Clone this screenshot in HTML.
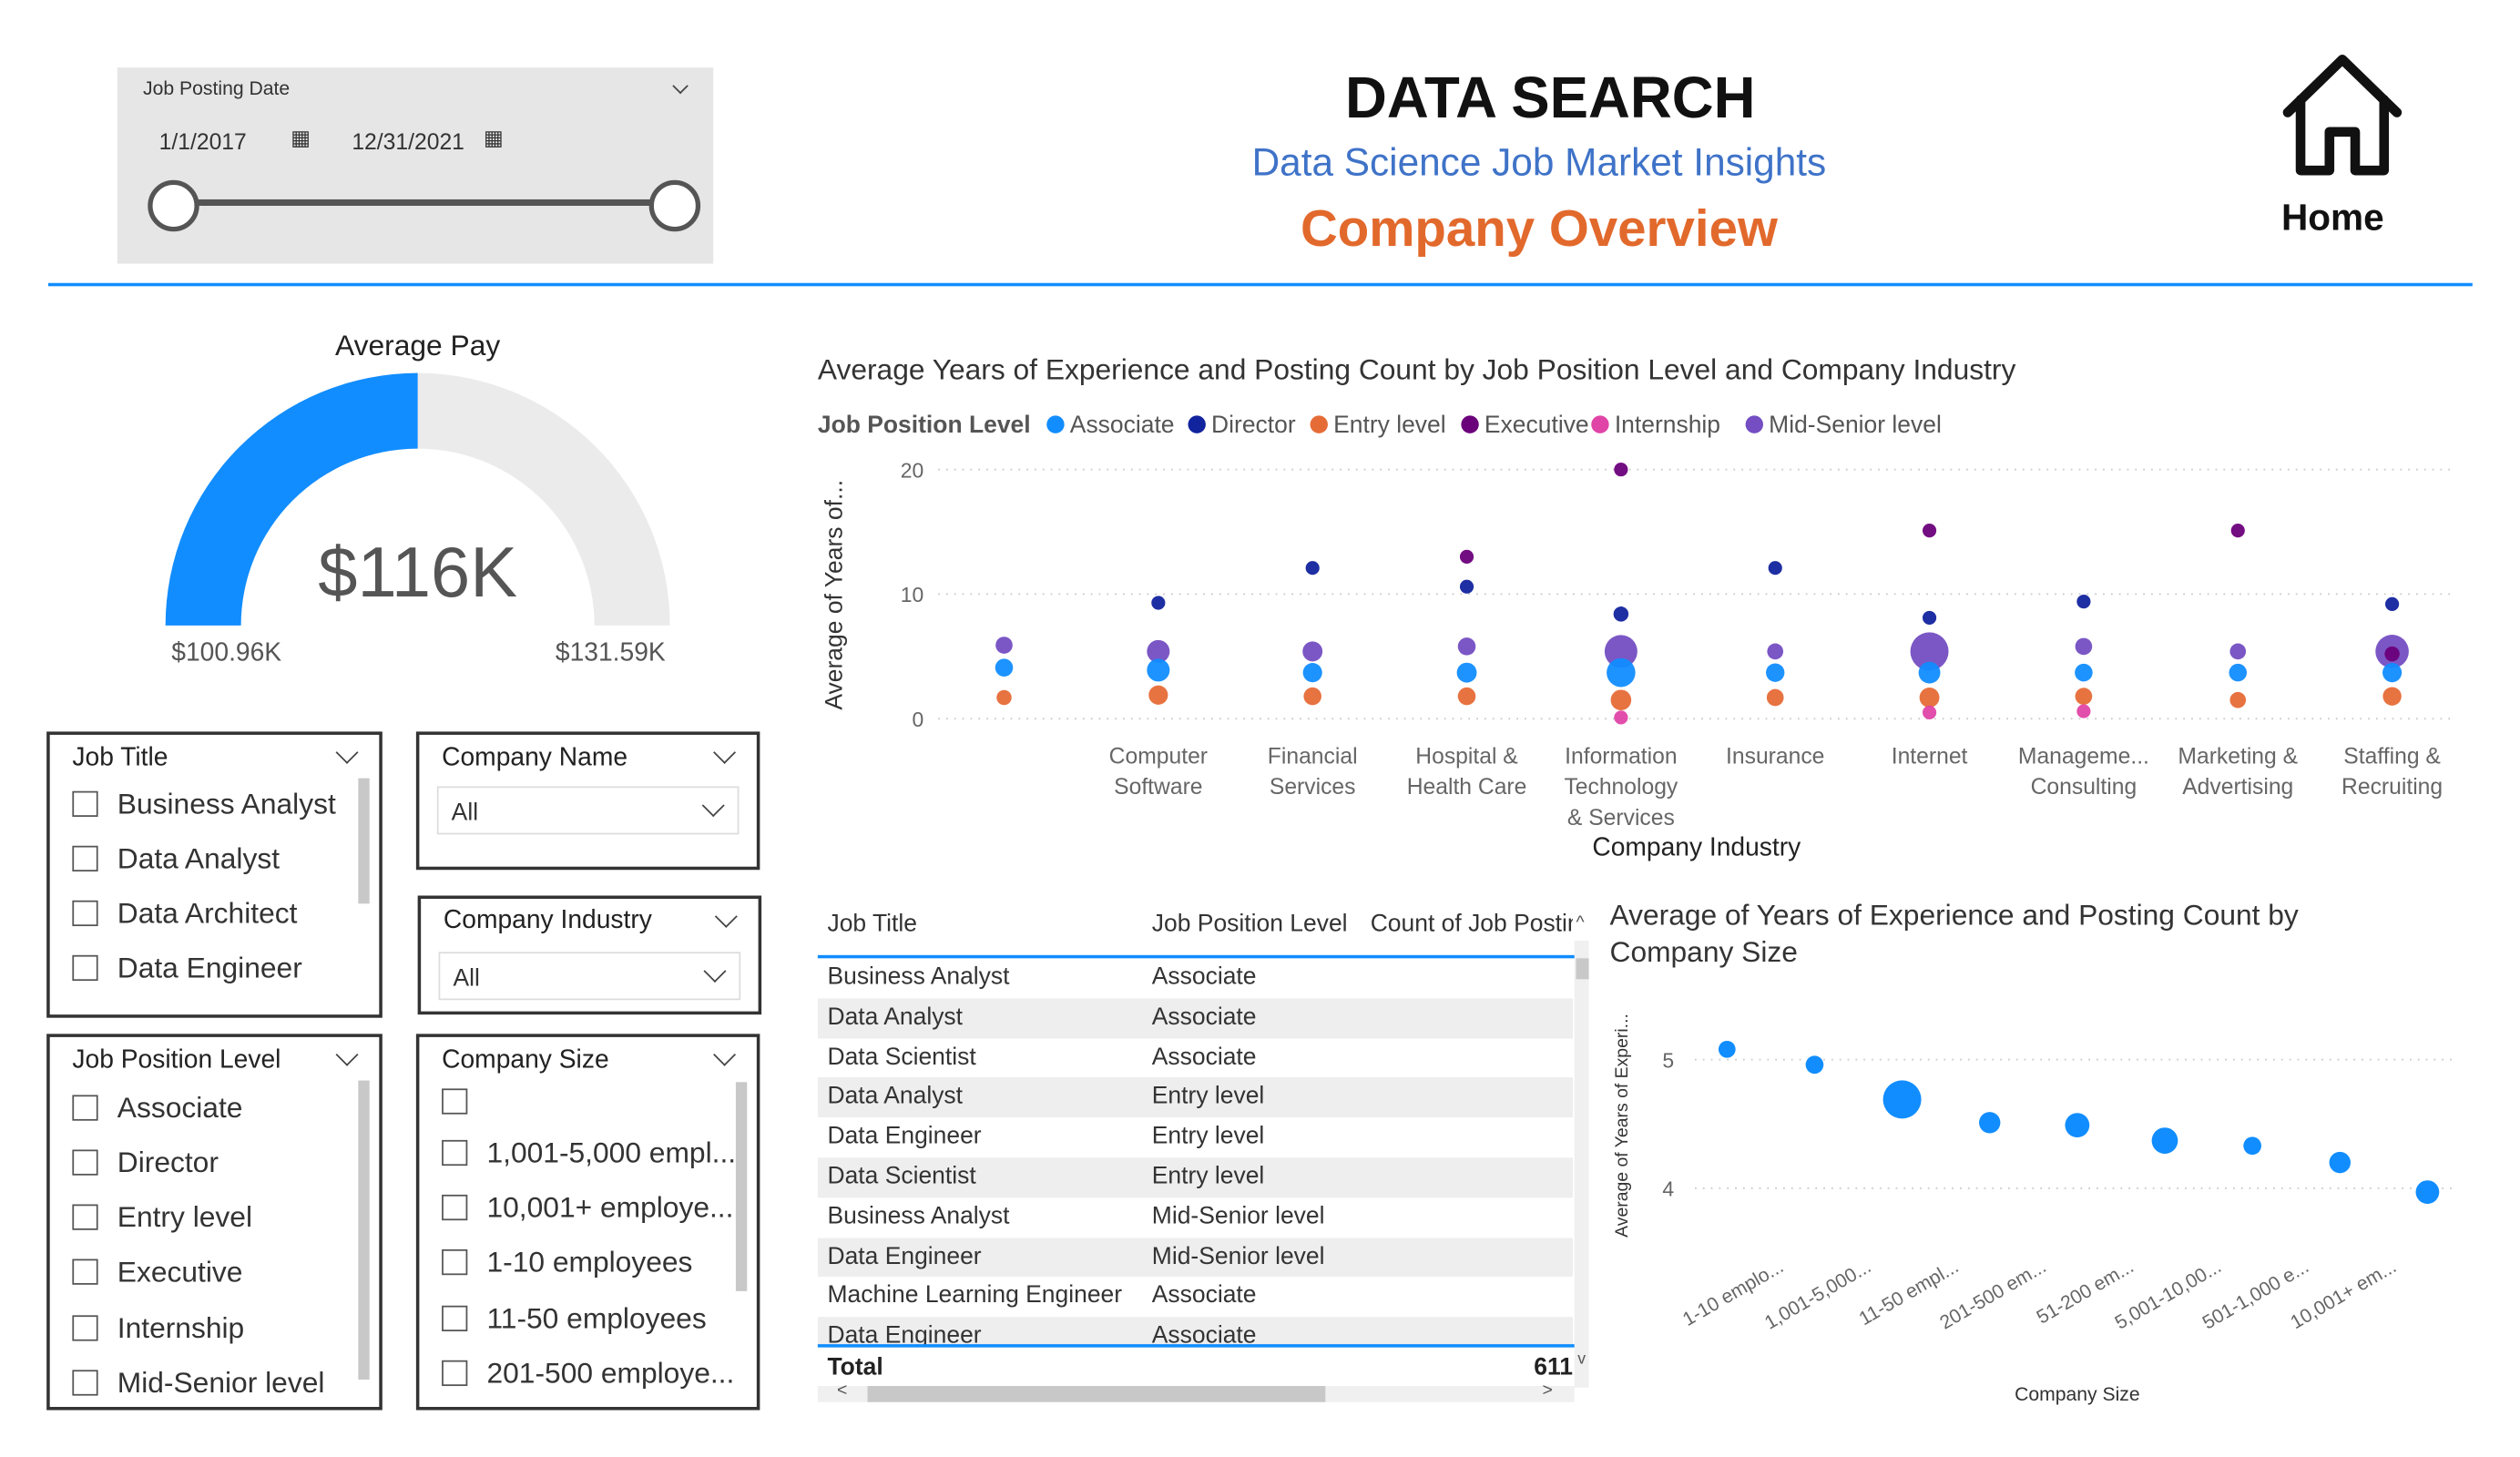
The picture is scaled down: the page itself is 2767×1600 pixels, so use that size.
<!DOCTYPE html>
<html><head><meta charset="utf-8">
<style>
html,body{margin:0;padding:0;background:#fff;}
body{width:2767px;height:1600px;overflow:hidden;font-family:"Liberation Sans",sans-serif;}
#wrap{position:absolute;left:0;top:0;width:1560px;height:902px;transform:scale(1.7640,1.7657);transform-origin:0 0;}
.abs{position:absolute;}
.box{position:absolute;border:2px solid #333;box-sizing:border-box;background:#fff;}
.hdr{position:absolute;left:14px;top:6px;font-size:16px;color:#222;}
.chev{position:absolute;width:9px;height:9px;border-right:1.5px solid #444;border-bottom:1.5px solid #444;transform:rotate(45deg);}
.item{position:absolute;left:14px;font-size:18px;color:#333;white-space:nowrap;}
.item .cb{display:inline-block;width:16px;height:16px;border:1.5px solid #555;vertical-align:-2px;margin-right:12px;box-sizing:border-box;}
.dd{position:absolute;left:11px;right:11px;height:30px;border:1px solid #ddd;box-sizing:border-box;font-size:15px;color:#333;padding:7px 0 0 8px;}
.row{position:absolute;left:0;width:470px;height:24.8px;font-size:15px;color:#333;}
.row span{position:absolute;top:3px;}
</style></head><body>
<div id="wrap">

<div class="abs" style="left:73px;top:42px;width:371px;height:122px;background:#e6e6e6;">
  <div class="abs" style="left:16px;top:6px;font-size:12px;color:#333;">Job Posting Date</div>
  <div class="chev" style="left:347px;top:8px;width:6px;height:6px;"></div>
  <div class="abs" style="left:18px;top:32px;width:128px;height:26px;font-size:14px;color:#333;padding:6px 0 0 8px;box-sizing:border-box;">1/1/2017<span style="position:absolute;left:90px;top:4px;font-size:13px;">▦</span></div>
  <div class="abs" style="left:138px;top:32px;width:128px;height:26px;font-size:14px;color:#333;padding:6px 0 0 8px;box-sizing:border-box;">12/31/2021<span style="position:absolute;left:90px;top:4px;font-size:13px;">▦</span></div>
  <div class="abs" style="left:34px;top:82px;width:312px;height:4px;background:#555;"></div>
  <div class="abs" style="left:19px;top:70px;width:26px;height:26px;border:3px solid #555;border-radius:50%;background:#fff;"></div>
  <div class="abs" style="left:331px;top:70px;width:26px;height:26px;border:3px solid #555;border-radius:50%;background:#fff;"></div>
</div>

<div class="abs" style="left:765px;top:40px;width:400px;text-align:center;font-size:36px;font-weight:bold;color:#111;">DATA SEARCH</div>
<div class="abs" style="left:708px;top:88px;width:500px;text-align:center;font-size:24px;color:#3f73c8;">Data Science Job Market Insights</div>
<div class="abs" style="left:708px;top:124px;width:500px;text-align:center;font-size:32px;font-weight:bold;color:#e2692c;">Company Overview</div>

<svg class="abs" style="left:1418px;top:32px;" width="80" height="80" viewBox="0 0 80 80">
  <path d="M6 38 L40 5 L74 38 M14 30 V74 H32 V50 H48 V74 H66 V30" fill="none" stroke="#111" stroke-width="6" stroke-linejoin="round" stroke-linecap="round"/>
</svg>
<div class="abs" style="left:1400px;top:122px;width:104px;text-align:center;font-size:23px;font-weight:bold;color:#111;">Home</div>

<div class="abs" style="left:30px;top:176px;width:1509px;height:2px;background:#118dff;"></div>

<div class="abs" style="left:160px;top:205px;width:200px;text-align:center;font-size:18px;color:#222;">Average Pay</div>
<svg class="abs" style="left:90px;top:220px;" width="340" height="180">
  <path d="M13 169 A157 157 0 0 1 327 169 L280 169 A110 110 0 0 0 60 169 Z" fill="#ebebeb"/>
  <path d="M13 169 A157 157 0 0 1 170 12 L170 59 A110 110 0 0 0 60 169 Z" fill="#118dff"/>
</svg>
<div class="abs" style="left:160px;top:332px;width:200px;text-align:center;font-size:44px;color:#555;">$116K</div>
<div class="abs" style="left:91px;top:398px;width:100px;text-align:center;font-size:16px;color:#555;">$100.96K</div>
<div class="abs" style="left:330px;top:398px;width:100px;text-align:center;font-size:16px;color:#555;">$131.59K</div>

<div class="box" style="left:29px;top:455px;width:209px;height:178px;">
  <div class="hdr">Job Title</div>
  <div class="chev" style="left:180px;top:6px;"></div>
  <div class="abs" style="left:192px;top:27px;width:7px;height:78px;background:#c8c8c8;"></div>
  <div class="item" style="top:33px;"><span class="cb"></span>Business Analyst</div>
  <div class="item" style="top:67px;"><span class="cb"></span>Data Analyst</div>
  <div class="item" style="top:101px;"><span class="cb"></span>Data Architect</div>
  <div class="item" style="top:135px;"><span class="cb"></span>Data Engineer</div>
</div>

<div class="box" style="left:259px;top:455px;width:214px;height:86px;">
  <div class="hdr">Company Name</div>
  <div class="chev" style="left:185px;top:6px;"></div>
  <div class="dd" style="top:32px;">All<div class="chev" style="right:10px;top:6px;"></div></div>
</div>

<div class="box" style="left:260px;top:557px;width:214px;height:74px;">
  <div class="hdr" style="top:5px;">Company Industry</div>
  <div class="chev" style="left:185px;top:6px;"></div>
  <div class="dd" style="top:33px;">All<div class="chev" style="right:10px;top:6px;"></div></div>
</div>

<div class="box" style="left:29px;top:643px;width:209px;height:234px;">
  <div class="hdr">Job Position Level</div>
  <div class="chev" style="left:180px;top:6px;"></div>
  <div class="abs" style="left:192px;top:27px;width:7px;height:186px;background:#c8c8c8;"></div>
  <div class="item" style="top:34px;"><span class="cb"></span>Associate</div>
  <div class="item" style="top:68px;"><span class="cb"></span>Director</div>
  <div class="item" style="top:102px;"><span class="cb"></span>Entry level</div>
  <div class="item" style="top:136px;"><span class="cb"></span>Executive</div>
  <div class="item" style="top:171px;"><span class="cb"></span>Internship</div>
  <div class="item" style="top:205px;"><span class="cb"></span>Mid-Senior level</div>
</div>

<div class="box" style="left:259px;top:643px;width:214px;height:234px;">
  <div class="hdr">Company Size</div>
  <div class="chev" style="left:185px;top:6px;"></div>
  <div class="abs" style="left:197px;top:28px;width:7px;height:130px;background:#c8c8c8;"></div>
  <div class="item" style="top:30px;"><span class="cb"></span></div>
  <div class="item" style="top:62px;"><span class="cb"></span>1,001-5,000 empl...</div>
  <div class="item" style="top:96px;"><span class="cb"></span>10,001+ employe...</div>
  <div class="item" style="top:130px;"><span class="cb"></span>1-10 employees</div>
  <div class="item" style="top:165px;"><span class="cb"></span>11-50 employees</div>
  <div class="item" style="top:199px;"><span class="cb"></span>201-500 employe...</div>
</div>

<svg class="abs" id="topChart" style="left:0;top:0;" width="1560" height="545"></svg>

<div class="abs" style="left:509px;top:560px;width:482px;height:315px;">
  <div class="abs" style="left:6px;top:6px;font-size:15px;color:#333;">Job Title</div>
  <div class="abs" style="left:208px;top:6px;font-size:15px;color:#333;">Job Position Level</div>
  <div class="abs" style="left:344px;top:6px;width:126px;overflow:hidden;white-space:nowrap;font-size:15px;color:#333;">Count of Job Posting</div>
  <div class="abs" style="left:472px;top:8px;font-size:11px;color:#555;">^</div>
  <div class="abs" style="left:471px;top:25px;width:9px;height:278px;background:#f0f0f0;"></div>
  <div class="abs" style="left:472px;top:36px;width:8px;height:13px;background:#c8c8c8;"></div>
  <div class="abs" style="left:0;top:34px;width:471px;height:2px;background:#118dff;"></div>
  <div id="rows" class="abs" style="left:0;top:36px;width:471px;height:241px;overflow:hidden;"></div>
  <div class="abs" style="left:0;top:276px;width:471px;height:2px;background:#118dff;"></div>
  <div class="abs" style="left:6px;top:282px;font-size:15px;font-weight:bold;color:#222;">Total</div>
  <div class="abs" style="left:420px;top:282px;width:50px;text-align:right;font-size:15px;font-weight:bold;color:#222;">611</div>
  <div class="abs" style="left:473px;top:280px;font-size:10px;color:#555;">v</div>
  <div class="abs" style="left:0;top:302px;width:471px;height:10px;background:#f0f0f0;"></div>
  <div class="abs" style="left:31px;top:302px;width:285px;height:10px;background:#c8c8c8;"></div>
  <div class="abs" style="left:12px;top:299px;font-size:11px;color:#555;">&lt;</div>
  <div class="abs" style="left:451px;top:299px;font-size:11px;color:#555;">&gt;</div>
</div>

<svg class="abs" id="botChart" style="left:0;top:0;" width="1560" height="902"></svg>

</div>
<script>
const industries = ["", "Computer Software", "Financial Services", "Hospital & Health Care", "Information Technology & Services", "Insurance", "Internet", "Manageme... Consulting", "Marketing & Advertising", "Staffing & Recruiting"];
const levels = ["Associate","Director","Entry level","Executive","Internship","Mid-Senior level"];
const levelColors = ["#118DFF","#12239E","#E66C37","#6B007B","#E044A7","#744EC2"];
const yTicksTop = [0,10,20];
const assocYears = [4.1,3.9,3.7,3.7,3.7,3.7,3.7,3.7,3.7,3.7];
const directorYears = [null,9.3,12.1,10.6,8.4,12.1,8.1,9.4,null,9.2];
const entryYears = [1.7,1.9,1.8,1.8,1.5,1.7,1.7,1.8,1.5,1.8];
const execYears = [null,null,null,13.0,20.0,null,15.1,null,15.1,5.2];
const internYears = [null,null,null,null,0.1,null,0.5,0.6,null,null];
const midSeniorYears = [5.9,5.4,5.4,5.8,5.4,5.4,5.4,5.8,5.4,5.4];
const assocCount = [6,14,8,9,28,7,12,6,6,8];
const directorCount = [1,2,2,2,3,2,2,2,1,2];
const entryCount = [3,8,6,6,10,5,9,5,4,7];
const execCount = [1,1,1,2,2,1,2,1,2,3];
const internCount = [1,1,1,1,2,1,2,2,1,1];
const midSeniorCount = [5,14,9,6,40,4,60,5,4,42];

const sizeYears = [5.08,4.96,4.69,4.51,4.49,4.37,4.33,4.20,3.97];
const sizeLabels = ["1-10 emplo...","1,001-5,000...","11-50 empl...","201-500 em...","51-200 em...","5,001-10,00...","501-1,000 e...","10,001+ em..."];
const sizeCount = [4,5,60,10,16,20,5,10,14];
const yTicksBot = [4,5];

const tblTitles = ["Business Analyst","Data Analyst","Data Scientist","Data Analyst","Data Engineer","Data Scientist","Business Analyst","Data Engineer","Machine Learning Engineer","Data Engineer"];
const tblLevels = ["Associate","Associate","Associate","Entry level","Entry level","Entry level","Mid-Senior level","Mid-Senior level","Associate","Associate"];

const NS="http://www.w3.org/2000/svg";
function mk(parent,tag,attrs,text){const e=document.createElementNS(NS,tag);for(const k in attrs)e.setAttribute(k,attrs[k]);if(text!==undefined)e.textContent=text;parent.appendChild(e);return e;}

(function(){
  const s=document.getElementById('topChart');
  const x0=625, step=96, yBase=447, yPer=7.75;
  const xs=i=>x0+i*step, ys=v=>yBase-v*yPer;
  let t=mk(s,'text',{x:509,y:236,'font-size':18,fill:'#333'},'Average Years of Experience and Posting Count by Job Position Level and Company Industry');
  
  
  t=mk(s,'text',{x:509,y:269,'font-size':15,'font-weight':'bold',fill:'#555'},'Job Position Level');
  
  
  const lx=[657,745,821,915,996,1092];
  levels.forEach((l,i)=>{
    const g=mk(s,'g',{});
    
    
    mk(g,'circle',{cx:lx[i],cy:264,r:5.5,fill:levelColors[i]});
    mk(g,'text',{x:lx[i]+9,y:269,'font-size':15,fill:'#555'},l);
  });
  yTicksTop.forEach(v=>{
    const gl=mk(s,'line',{x1:584,x2:1525,y1:ys(v),y2:ys(v),stroke:'#c8c8c8','stroke-dasharray':'1 4'});
    
    
    const tl=mk(s,'text',{x:575,y:ys(v)+5,'text-anchor':'end','font-size':13,fill:'#666'},String(v));
    
    
  });
  const at=mk(s,'text',{x:0,y:0,'font-size':15,fill:'#333','text-anchor':'middle',transform:'translate(524,370) rotate(-90)'},'Average of Years of...');
  
  
  industries.forEach((n,i)=>{
    const words=n.replace('Information Technology & Services','Information|Technology|& Services').replace('Computer Software','Computer|Software').replace('Financial Services','Financial|Services').replace('Hospital & Health Care','Hospital &|Health Care').replace('Manageme... Consulting','Manageme...|Consulting').replace('Marketing & Advertising','Marketing &|Advertising').replace('Staffing & Recruiting','Staffing &|Recruiting').split('|');
    words.forEach((w,j)=>{
      const e=mk(s,'text',{x:xs(i),y:475+j*19,'text-anchor':'middle','font-size':14,fill:'#666'},w);
      
      
    });
  });
  const xt=mk(s,'text',{x:1056,y:532,'text-anchor':'middle','font-size':16,fill:'#222'},'Company Industry');
  
  
  const series=[[midSeniorYears,midSeniorCount,5],[assocYears,assocCount,0],[entryYears,entryCount,2],[directorYears,directorCount,1],[execYears,execCount,3],[internYears,internCount,4]];
  series.forEach(([vals,cnt,ci])=>{
    vals.forEach((v,i)=>{
      if(v===null)return;
      const r=2.6+Math.sqrt(cnt[i])*1.2;
      const c=mk(s,'circle',{cx:xs(i),cy:ys(v),r:r,fill:levelColors[ci],'fill-opacity':0.95});
      
      
    });
  });
})();

(function(){
  const r=document.getElementById('rows');
  tblTitles.forEach((t,i)=>{
    const d=document.createElement('div');
    d.className='row';
    
    
    d.style.top=(i*24.8)+'px';
    d.style.background=i%2?'#eeeeee':'#fff';
    d.innerHTML='<span style="left:6px">'+t+'</span><span style="left:208px">'+tblLevels[i]+'</span>';
    r.appendChild(d);
  });
})();

(function(){
  const s=document.getElementById('botChart');
  const x0=1075, step=54.5, y5=659, yPer=80;
  const xs=i=>x0+i*step, ys=v=>y5-(v-5)*yPer;
  const t1=mk(s,'text',{x:1002,y:575,'font-size':18,fill:'#333'},'Average of Years of Experience and Posting Count by');
  
  
  const t2=mk(s,'text',{x:1002,y:598,'font-size':18,fill:'#333'},'Company Size');
  
  
  yTicksBot.forEach(v=>{
    const gl=mk(s,'line',{x1:1055,x2:1530,y1:ys(v),y2:ys(v),stroke:'#c8c8c8','stroke-dasharray':'1 4'});
    
    
    const tl=mk(s,'text',{x:1042,y:ys(v)+5,'text-anchor':'end','font-size':13,fill:'#666'},String(v));
    
    
  });
  const at=mk(s,'text',{x:0,y:0,'font-size':11,fill:'#333','text-anchor':'middle',transform:'translate(1013,700) rotate(-90)'},'Average of Years of Experi...');
  
  
  sizeYears.forEach((v,i)=>{
    const r=3+Math.sqrt(sizeCount[i])*1.15;
    const c=mk(s,'circle',{cx:xs(i),cy:ys(v),r:r,fill:'#118DFF'});
    
    
  });
  sizeLabels.forEach((l,i)=>{
    const x=xs(i)+36, y=790;
    const e=mk(s,'text',{x:x,y:y,'text-anchor':'end','font-size':12,fill:'#666',transform:'rotate(-30 '+x+' '+y+')'},l);
    
    
  });
  const xt=mk(s,'text',{x:1293,y:871,'text-anchor':'middle','font-size':12,fill:'#333'},'Company Size');
  
  
})();
</script>
</body></html>
